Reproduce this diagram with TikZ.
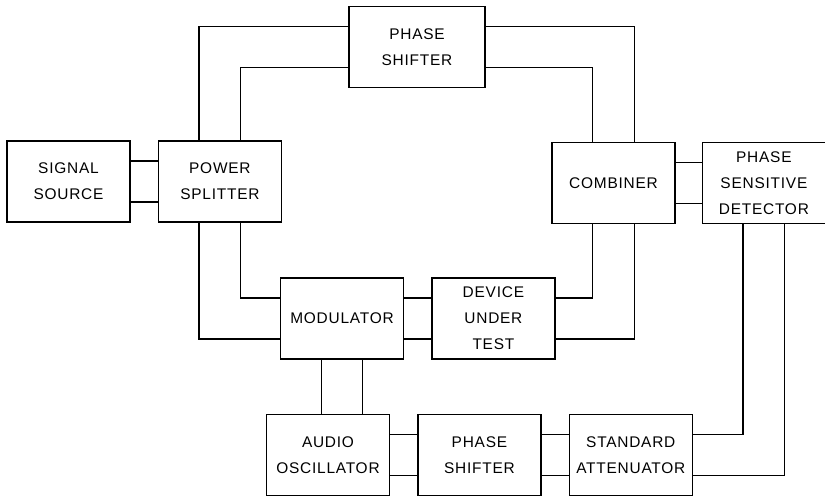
\documentclass[tikz,border=0pt]{standalone}
\usepackage{fontspec}
\setmainfont[LetterSpace=5]{Liberation Sans}
\usetikzlibrary{calc, positioning}
\tikzstyle{block} = [rectangle, line width=1.4bp, minimum width=123bp, minimum height=81bp, inner sep=0pt, align=center, draw=black, font=\fontsize{15.5}{26}\selectfont]
\tikzstyle{wire} = [line width=1.4bp]
\begin{document}
\begin{tikzpicture}[x=1bp, y=-1bp, node distance = 27bp]
	\useasboundingbox (0,0) rectangle (825,496);
	\node (SignalSource) [block] at (68.5,181.5) {SIGNAL\\SOURCE};
	\node (PowerSplitter) [block, right = of SignalSource] {POWER\\SPLITTER};
	\node (PhaseShifterTop) [block, minimum width=136bp] at (417,47) {PHASE\\SHIFTER};
	\node (Combiner) [block] at (613.5,183) {COMBINER};
	\node (Detector) [block, right = 26bp of Combiner] {PHASE\\SENSITIVE\\DETECTOR};
	\node (Modulator) [block] at (342,318.5) {MODULATOR};
	\node (DeviceUnderTest) [block, right = of Modulator] {DEVICE\\UNDER\\TEST};
	\node (AudioOscillator) [block] at (328,455) {AUDIO\\OSCILLATOR};
	\node (PhaseShifterBottom) [block, right = of AudioOscillator] {PHASE\\SHIFTER};
	\node (Attenuator) [block, right = of PhaseShifterBottom] {STANDARD\\ATTENUATOR};
	% attachment points on the sides of each box
	\foreach \blk in {SignalSource,PowerSplitter,PhaseShifterTop,Combiner,Detector,Modulator,DeviceUnderTest,AudioOscillator,PhaseShifterBottom,Attenuator} {
		\coordinate (\blk-N1) at ($(\blk.north west)!1/3!(\blk.north east)$);
		\coordinate (\blk-N2) at ($(\blk.north west)!2/3!(\blk.north east)$);
		\coordinate (\blk-S1) at ($(\blk.south west)!1/3!(\blk.south east)$);
		\coordinate (\blk-S2) at ($(\blk.south west)!2/3!(\blk.south east)$);
		\coordinate (\blk-W1) at ($(\blk.north west)!1/4!(\blk.south west)$);
		\coordinate (\blk-W2) at ($(\blk.north west)!3/4!(\blk.south west)$);
		\coordinate (\blk-E1) at ($(\blk.north east)!1/4!(\blk.south east)$);
		\coordinate (\blk-E2) at ($(\blk.north east)!3/4!(\blk.south east)$);
	}
	% pairs of lines between neighbouring boxes
	\foreach \blkA/\blkB in {SignalSource/PowerSplitter,Combiner/Detector,Modulator/DeviceUnderTest,AudioOscillator/PhaseShifterBottom,PhaseShifterBottom/Attenuator} {
		\draw [wire] (\blkA-E1) -- (\blkA-E1 -| \blkB.west);
		\draw [wire] (\blkA-E2) -- (\blkA-E2 -| \blkB.west);
	}
	\draw [wire] (PowerSplitter-N1) |- (PhaseShifterTop-W1);
	\draw [wire] (PowerSplitter-N2) |- (PhaseShifterTop-W2);
	\draw [wire] (PhaseShifterTop-E1) -| (Combiner-N2);
	\draw [wire] (PhaseShifterTop-E2) -| (Combiner-N1);
	\draw [wire] (PowerSplitter-S2) |- (Modulator-W1);
	\draw [wire] (PowerSplitter-S1) |- (Modulator-W2);
	\draw [wire] (DeviceUnderTest-E1) -| (Combiner-S1);
	\draw [wire] (DeviceUnderTest-E2) -| (Combiner-S2);
	\draw [wire] (Modulator-S1) -- (Modulator-S1 |- AudioOscillator.north);
	\draw [wire] (Modulator-S2) -- (Modulator-S2 |- AudioOscillator.north);
	\draw [wire] (Attenuator-E1) -| (Detector-S1);
	\draw [wire] (Attenuator-E2) -| (Detector-S2);
\end{tikzpicture}
\end{document}
